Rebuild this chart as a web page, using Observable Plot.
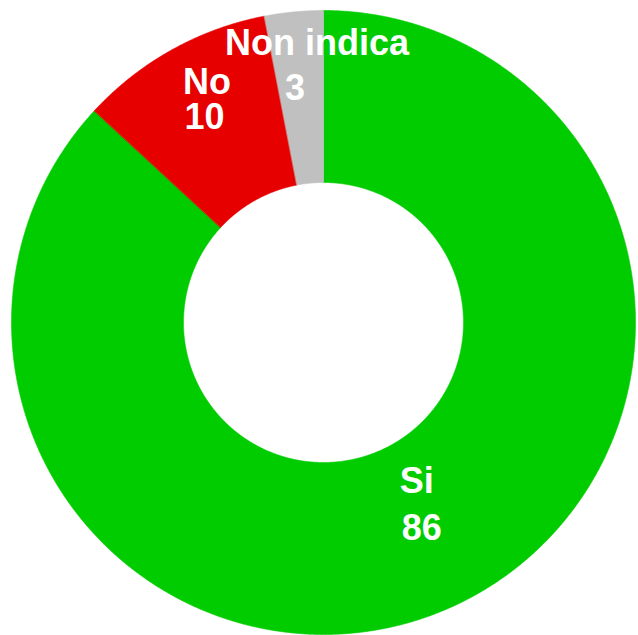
<!DOCTYPE html>
<html><head><meta charset="utf-8">
<script src="https://cdn.jsdelivr.net/npm/d3@7"></script>
<script src="https://cdn.jsdelivr.net/npm/@observablehq/plot@0.6"></script>
<style>html,body{margin:0;padding:0;background:#fff}</style>
</head><body><div id="chart"></div>
<script>
const categories = ["Si", "No", "Non indica"];
const values = [86, 10, 3];

const W = 638, H = 635;
const cx = 323, cy = 322, R = 312;
const inner = 140 / R;
const total = d3.sum(values);
let acc = 0;
const slices = categories.map((c, i) => {
  const a0 = acc / total * 2 * Math.PI;
  acc += values[i];
  return {category: c, value: values[i], a0, a1: acc / total * 2 * Math.PI};
});
const pts = [];
for (const s of slices) {
  const n = Math.max(2, Math.ceil((s.a1 - s.a0) / (Math.PI / 720)));
  for (let k = 0; k <= n; k++) {
    const a = s.a0 + (s.a1 - s.a0) * k / n;
    pts.push({category: s.category, x: Math.sin(a), y: Math.cos(a)});
  }
  for (let k = n; k >= 0; k--) {
    const a = s.a0 + (s.a1 - s.a0) * k / n;
    pts.push({category: s.category, x: inner * Math.sin(a), y: inner * Math.cos(a)});
  }
}
// label layout (radius as fraction of outer radius, pixel nudges)
const layout = {
  "Si": {r: 0.657, name: [11, -29], value: [16, 18]},
  "No": {r: 0.807, name: [6, -20], value: [3.5, 15]},
  "Non indica": {r: 0.824, name: [18, -23], value: [-4, 22]}
};
const labels = [];
for (const s of slices) {
  const c = (s.a0 + s.a1) / 2, L = layout[s.category];
  const bx = Math.sin(c) * L.r, by = Math.cos(c) * L.r;
  labels.push({x: bx + L.name[0] / R, y: by - L.name[1] / R, text: s.category});
  labels.push({x: bx + L.value[0] / R, y: by - L.value[1] / R, text: String(s.value)});
}

const chart = Plot.plot({
  width: W, height: H, margin: 0,
  style: {background: "white", overflow: "visible"},
  x: {domain: [-cx / R, (W - cx) / R], axis: null},
  y: {domain: [-(H - cy) / R, cy / R], axis: null},
  color: {domain: categories, range: ["#00cc00", "#e60000", "#c0c0c0"]},
  marks: [
    Plot.line(pts, {x: "x", y: "y", z: "category", fill: "category", stroke: "category", strokeWidth: 0.6, curve: "linear-closed"}),
    Plot.text(labels, {x: "x", y: "y", text: "text", fill: "white", fontSize: 36, fontWeight: "bold", fontFamily: "Liberation Sans, Arial, sans-serif"})
  ]
});
document.getElementById("chart").appendChild(chart);
</script>
</body></html>
